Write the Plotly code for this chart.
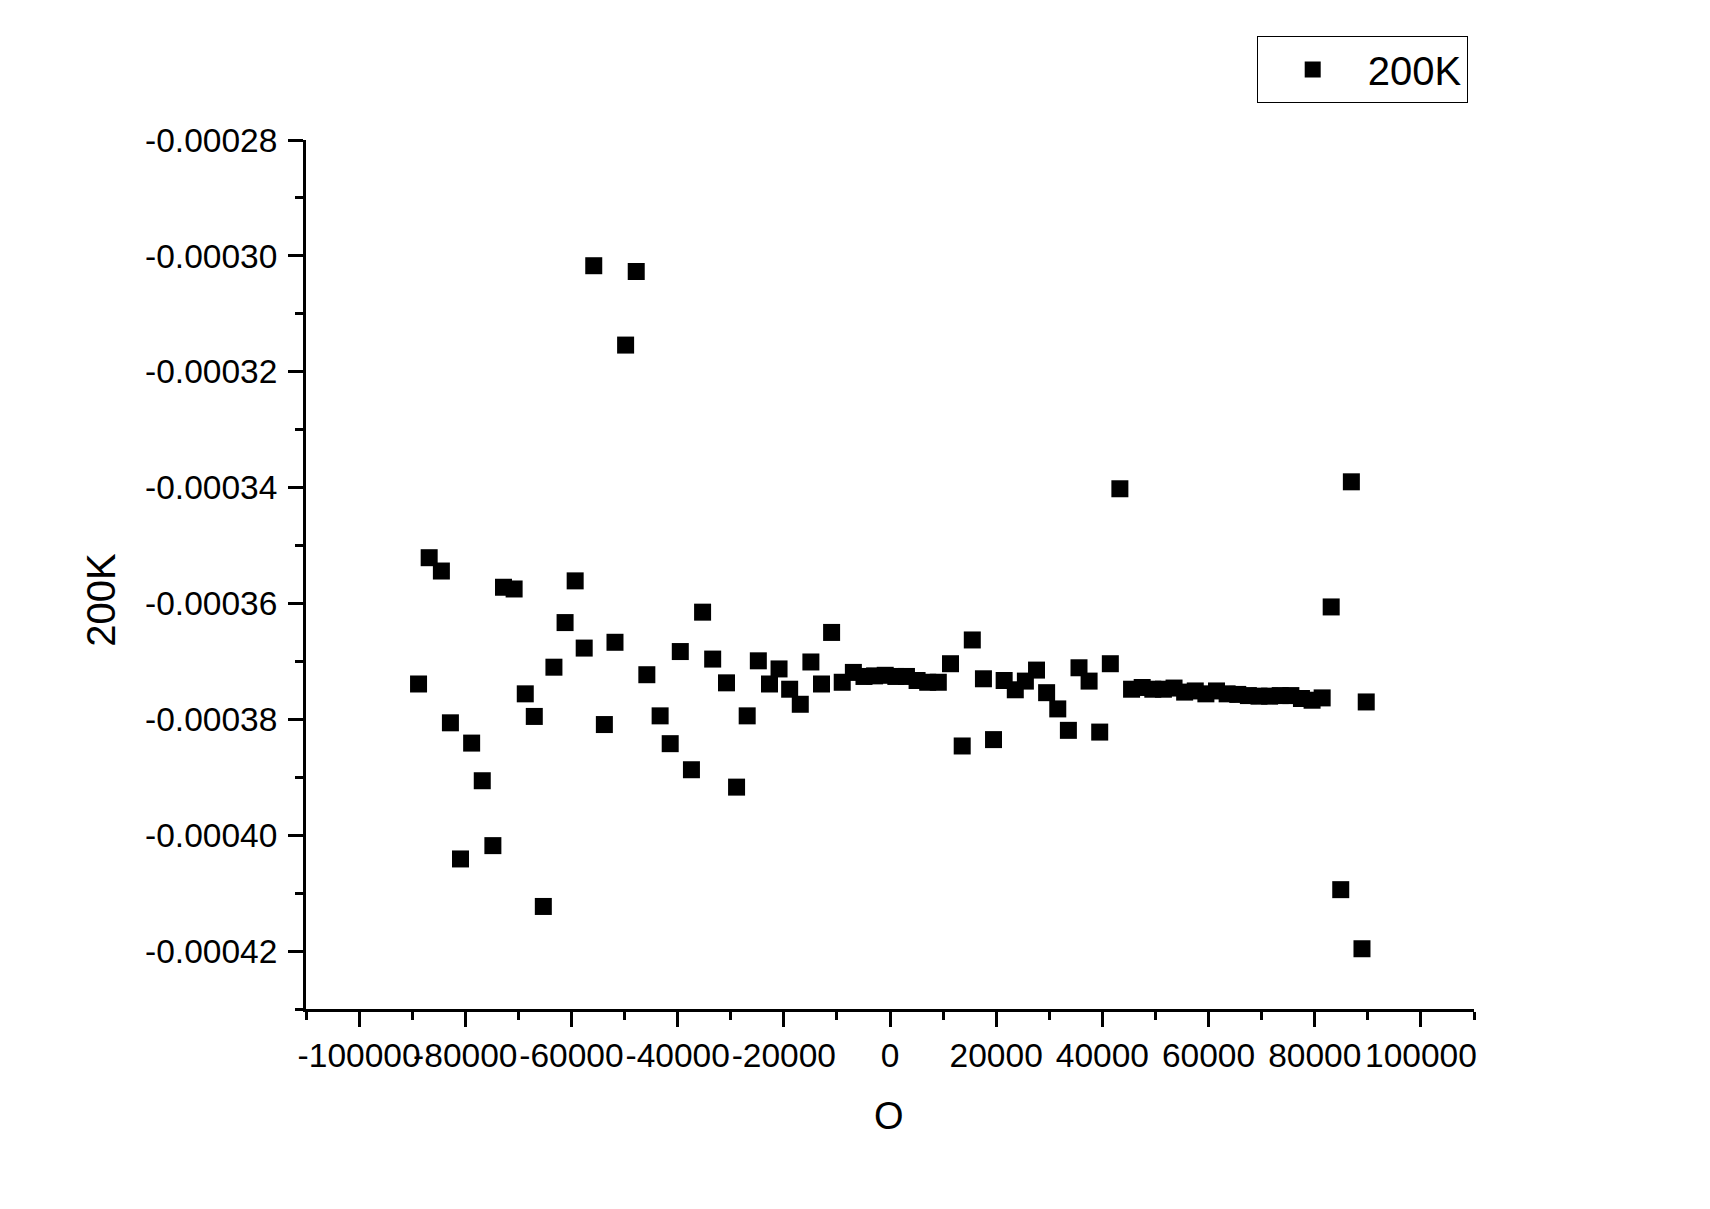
import plotly.graph_objects as go

# ---- data ----
field_oe = [
    -88800, -86800, -84500, -82800, -80900, -78800, -76800, -74800, -72800, -70800,
    -68700, -67000, -65300, -63300, -61200, -59300, -57600, -55800, -53800, -51800,
    -49800, -47800, -45800, -43300, -41400, -39500, -37400, -35300, -33400, -30800,
    -28900, -26900, -24800, -22700, -20900, -18900, -16900, -14900, -12900, -11000,
    -9000, -6900, -4900, -2900, -900, 1100, 3100, 5100, 7100, 9100,
    11400, 13600, 15500, 17600, 19500, 21500, 23600, 25500, 27600, 29500,
    31600, 33600, 35600, 37500, 39500, 41500, 43300, 45500, 47500, 49500,
    51500, 53500, 55500, 57500, 59500, 61500, 63500, 65500, 67500, 69500,
    71500, 73500, 75500, 77500, 79500, 81400, 83100, 84900, 86900, 88900,
    89700,
]
signal_200k = [
    -0.0003739, -0.0003521, -0.0003544, -0.0003806, -0.0004041, -0.0003841, -0.0003906, -0.0004018, -0.0003572, -0.0003575,
    -0.0003756, -0.0003795, -0.0004123, -0.0003710, -0.0003633, -0.0003561, -0.0003677, -0.0003017, -0.0003809, -0.0003667,
    -0.0003154, -0.0003027, -0.0003723, -0.0003794, -0.0003842, -0.0003683, -0.0003887, -0.0003615, -0.0003696, -0.0003737,
    -0.0003917, -0.0003794, -0.0003699, -0.0003739, -0.0003713, -0.0003748, -0.0003774, -0.0003701, -0.0003739, -0.0003650,
    -0.0003736, -0.0003719, -0.0003726, -0.0003725, -0.0003724, -0.0003726, -0.0003726, -0.0003733, -0.0003736, -0.0003736,
    -0.0003704, -0.0003846, -0.0003663, -0.0003730, -0.0003835, -0.0003733, -0.0003749, -0.0003734, -0.0003715, -0.0003754,
    -0.0003782, -0.0003819, -0.0003711, -0.0003734, -0.0003822, -0.0003704, -0.0003402, -0.0003748, -0.0003745, -0.0003748,
    -0.0003748, -0.0003746, -0.0003753, -0.0003751, -0.0003756, -0.0003751, -0.0003756, -0.0003757, -0.0003759, -0.0003760,
    -0.0003760, -0.0003759, -0.0003759, -0.0003764, -0.0003767, -0.0003763, -0.0003606, -0.0004094, -0.0003390, -0.0004196,
    -0.0003770,
]
series_name = "200K"
x_title = "O"
y_title = "200K"

x_tick_vals = [-100000, -80000, -60000, -40000, -20000, 0, 20000, 40000, 60000, 80000, 100000]
x_tick_text = ["-100000", "-80000", "-60000", "-40000", "-20000", "0", "20000", "40000", "60000", "80000", "100000"]
y_tick_vals = [-0.00042, -0.00040, -0.00038, -0.00036, -0.00034, -0.00032, -0.00030, -0.00028]
y_tick_text = ["-0.00042", "-0.00040", "-0.00038", "-0.00036", "-0.00034", "-0.00032", "-0.00030", "-0.00028"]

FONT = "Arial, Liberation Sans, sans-serif"

fig = go.Figure()
fig.add_trace(go.Scatter(
    x=field_oe, y=signal_200k, mode="markers", name=series_name,
    marker=dict(symbol="square", size=17, color="black", line=dict(width=0)),
    showlegend=True,
))

axis_common = dict(
    showline=True, linecolor="black", linewidth=3, mirror=False,
    showgrid=False, zeroline=False,
    ticks="outside", ticklen=15, tickwidth=3, tickcolor="black",
    tickfont=dict(family=FONT, size=33.5, color="black"),
    tickangle=0,
)

fig.update_layout(
    width=1710, height=1209,
    margin=dict(l=306, r=236, t=140, b=200, pad=0, autoexpand=False),
    paper_bgcolor="white", plot_bgcolor="white",
    font=dict(family=FONT, color="black"),
    xaxis=dict(
        range=[-110000, 110000], tickmode="array",
        tickvals=x_tick_vals, ticktext=x_tick_text,
        minor=dict(dtick=10000, tick0=0, ticks="outside", ticklen=8, tickwidth=3, tickcolor="black", showgrid=False),
        ticklabelstandoff=0,
        **axis_common,
    ),
    yaxis=dict(
        range=[-0.00043, -0.00028], tickmode="array",
        tickvals=y_tick_vals, ticktext=y_tick_text,
        minor=dict(dtick=0.00001, tick0=0, ticks="outside", ticklen=8, tickwidth=3, tickcolor="black", showgrid=False),
        ticklabelstandoff=4,
        **axis_common,
    ),
    legend=dict(
        xref="container", yref="container",
        x=1256.7 / 1710, y=1 - 36 / 1209, xanchor="left", yanchor="top",
        bgcolor="white", bordercolor="black", borderwidth=1,
        itemwidth=100,
        font=dict(family=FONT, size=40, color="black"),
    ),
    annotations=[
        dict(text=y_title, xref="paper", yref="paper", x=-0.1758, y=0.4707,
             xanchor="center", yanchor="middle", textangle=-90, showarrow=False,
             font=dict(family=FONT, size=40, color="black")),
        dict(text=x_title, xref="paper", yref="paper", x=0.4991, y=-0.1231,
             xanchor="center", yanchor="middle", showarrow=False,
             font=dict(family=FONT, size=38, color="black")),
    ],
)

fig.write_html("out.html", config={"displayModeBar": False},
               post_script="document.body.style.margin='0';document.body.style.overflow='hidden';")
